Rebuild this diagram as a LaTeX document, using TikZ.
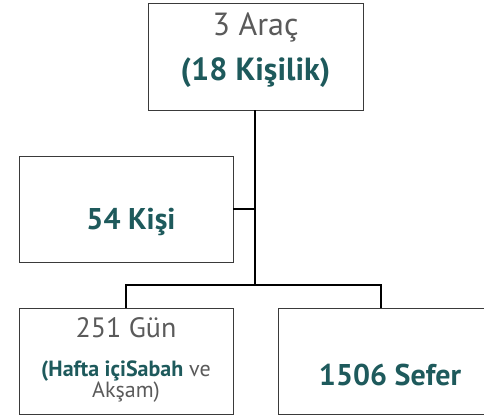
\documentclass[tikz,border=0pt]{standalone}
\usepackage{fontspec}
\setmainfont{PT Sans}
\usetikzlibrary{positioning}
\definecolor{tealtext}{HTML}{1E5A5C}
\definecolor{greytext}{HTML}{5A5A5A}
\definecolor{boxline}{HTML}{3A3A3A}
\begin{document}
\begin{tikzpicture}[x=1pt, y=-1pt, box/.style={draw=boxline, line width=0.8pt, fill=white, minimum width=214pt, minimum height=106pt, inner sep=0pt}, txt/.style={align=center, inner sep=0pt}, link/.style={line width=1.7pt, black}]
\useasboundingbox (0,0) rectangle (484,419);
% boxes
\node[box, minimum width=215pt, minimum height=107pt] (arac) at (255.5,56.5) {};
\node[box] (kisi) at (126,209) {};
\node[box] (gun) at (126,361) {};
\node[box, minimum width=206pt] (sefer) at (381,361) {};
% texts
\node[txt] (aracText) at (255.5,50) {\fontsize{32}{38}\selectfont\color{greytext}3 Araç\\[14pt]\fontsize{32}{38}\selectfont\bfseries\color{tealtext}(18 Kişilik)};
\node[txt] (kisiText) at (131,222) {\fontsize{30}{36}\selectfont\bfseries\color{tealtext}54 Kişi};
\node[txt] (gunText) at (126,360) {\fontsize{28}{32}\selectfont\color{greytext}251 Gün\\[22pt]\fontsize{22}{23}\selectfont\color{greytext}{\bfseries\color{tealtext}(Hafta içiSabah} ve\\\fontsize{22}{23}\selectfont\color{greytext}Akşam)};
\node[txt] (seferText) at (390,375) {\fontsize{30}{36}\selectfont\bfseries\color{tealtext}1506 Sefer};
% connectors
\coordinate (bus) at (255,285);
\draw[link] (arac.south -| bus) -- (bus);
\draw[link] (kisi.east) -- (kisi.east -| bus);
\draw[link] (bus) -| (gun.north);
\draw[link] (bus) -| (sefer.north);
\end{tikzpicture}
\end{document}
